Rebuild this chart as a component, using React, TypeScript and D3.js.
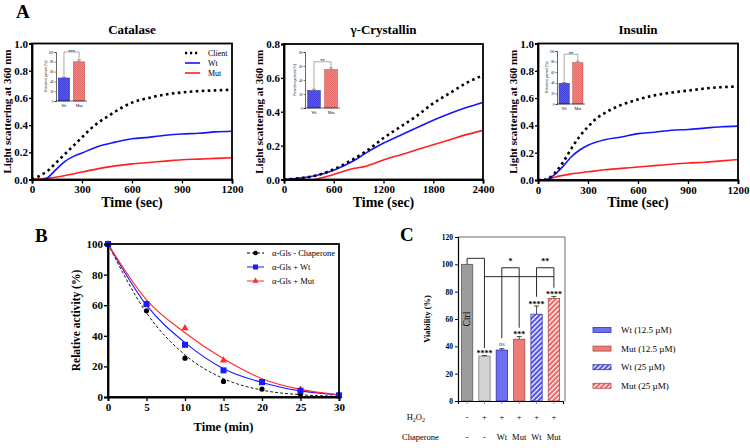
import React, { useEffect, useRef } from "react";
import * as d3 from "d3";

const FONT = "'Liberation Serif', 'Times New Roman', serif";

// ---- Panel A: light scattering kinetics ----
const catClientT = [0, 50, 100, 150, 200, 250, 300, 350, 400, 450, 500, 600, 700, 800, 900, 1000, 1100, 1200];
const catClient = [0, 0.03, 0.07, 0.13, 0.19, 0.25, 0.31, 0.37, 0.42, 0.46, 0.5, 0.565, 0.6, 0.625, 0.64, 0.65, 0.655, 0.66];
const catWtT = [75, 100, 150, 200, 250, 300, 400, 500, 600, 700, 800, 900, 1000, 1100, 1200];
const catWt = [0, 0.02, 0.08, 0.135, 0.17, 0.195, 0.245, 0.275, 0.3, 0.31, 0.325, 0.335, 0.34, 0.35, 0.355];
const catMutT = [0, 100, 200, 300, 400, 500, 600, 700, 800, 900, 1000, 1100, 1200];
const catMut = [0, 0.01, 0.03, 0.055, 0.08, 0.1, 0.115, 0.125, 0.135, 0.145, 0.15, 0.155, 0.16];

const gamClientT = [0, 200, 400, 600, 800, 1000, 1200, 1400, 1600, 1800, 2000, 2200, 2400];
const gamClient = [0, 0.008, 0.025, 0.06, 0.11, 0.17, 0.245, 0.31, 0.375, 0.45, 0.51, 0.57, 0.615];
const gamWt = [0, 0.008, 0.025, 0.055, 0.1, 0.16, 0.215, 0.26, 0.305, 0.35, 0.39, 0.425, 0.455];
const gamMutT = [370, 600, 800, 1000, 1200, 1400, 1600, 1800, 2000, 2200, 2400];
const gamMut = [0, 0.03, 0.06, 0.08, 0.115, 0.145, 0.175, 0.205, 0.235, 0.265, 0.29];

const insClientT = [0, 50, 100, 150, 200, 250, 300, 350, 400, 500, 600, 700, 800, 900, 1000, 1100, 1200];
const insClient = [0, 0.005, 0.05, 0.13, 0.23, 0.32, 0.39, 0.45, 0.49, 0.55, 0.59, 0.62, 0.64, 0.655, 0.67, 0.68, 0.685];
const insWtT = [50, 100, 150, 200, 250, 300, 400, 500, 600, 700, 800, 900, 1000, 1100, 1200];
const insWt = [0, 0.04, 0.1, 0.17, 0.22, 0.255, 0.295, 0.315, 0.34, 0.35, 0.365, 0.37, 0.38, 0.39, 0.395];
const insMutT = [50, 100, 200, 300, 400, 500, 600, 700, 800, 900, 1000, 1100, 1200];
const insMut = [0, 0.02, 0.045, 0.06, 0.075, 0.085, 0.095, 0.105, 0.115, 0.125, 0.13, 0.14, 0.15];

// inset bars: protection percent
const insetGroups = ["Wt", "Mut"];
const catProtect = [47, 80];
const catProtectErr = [2, 4];
const gamProtect = [25, 55];
const gamProtectErr = [2, 2.5];
const insProtect = [39, 78];
const insProtectErr = [1.5, 3];

// ---- Panel B: alpha-glucosidase activity ----
const timeMin = [0, 5, 10, 15, 20, 25, 30];
const actNone = [100, 56.3, 25.4, 10.2, 5.2, 2, 0.7];
const actWt = [100, 60.7, 34.1, 17.4, 9.8, 4.1, 1.1];
const actMut = [100, 61, 45, 23.9, 9, 4.8, 1];
const fitNone = [100, 55, 27.5, 12, 4.5, 1.5, 0.5];
const fitWt = [100, 60, 35.5, 18.5, 9.5, 4, 1.5];
const fitMut = [100, 63.5, 42, 25, 12, 5, 1.5];

// ---- Panel C: cell viability ----
const conditions = ["ctrl", "h2o2", "wt12", "mut12", "wt25", "mut25"];
const viability = [100, 32.8, 37.3, 45.2, 63.5, 75];
const viabilityErr = [0, 0.5, 1, 2, 6, 1.5];
const viabilityStars = ["", "****", "ns", "***", "****", "****"];
const h2o2Row = ["-", "+", "+", "+", "+", "+"];
const chaperoneRow = ["-", "-", "Wt", "Mut", "Wt", "Mut"];
const viabilityLegend = ["Wt (12.5 \u00b5M)", "Mut (12.5 \u00b5M)", "Wt (25 \u00b5M)", "Mut (25 \u00b5M)"];

type Sel = d3.Selection<any, unknown, null, undefined>;

function label(g: Sel, x: number, y: number, t: string, size: number, opts: any = {}) {
  return g.append("text").attr("x", x).attr("y", y)
    .attr("text-anchor", opts.anchor || "start")
    .attr("fill", opts.fill || "#000")
    .style("font-family", FONT)
    .style("font-weight", opts.bold ? "bold" : "normal")
    .style("font-size", size + "px")
    .text(t);
}

function styleAxis(ax: Sel, width: number, fontSize: number) {
  ax.select(".domain").attr("stroke", "#000").attr("stroke-width", width);
  ax.selectAll(".tick line").attr("stroke", "#000").attr("stroke-width", width * 0.75);
  ax.selectAll(".tick text")
    .attr("fill", "#000")
    .style("font-family", FONT)
    .style("font-weight", "bold")
    .style("font-size", fontSize + "px");
}

function drawKinetic(svg: Sel, p: any) {
  const x = d3.scaleLinear().domain([0, p.xMax]).range([p.left, p.right]);
  const y = d3.scaleLinear().domain([0, p.yMax]).range([p.bottom, p.top]);
  const g = svg.append("g");

  const line = d3.line<[number, number]>()
    .x(d => x(d[0]))
    .y(d => y(d[1]))
    .curve(d3.curveMonotoneX);

  const mk = (t: number[], v: number[]) => t.map((tt, i) => [tt, v[i]] as [number, number]);

  g.append("path").attr("d", line(mk(p.mutT, p.mut)))
    .attr("fill", "none").attr("stroke", "#ff2020").attr("stroke-width", 1.6);
  g.append("path").attr("d", line(mk(p.wtT, p.wt)))
    .attr("fill", "none").attr("stroke", "#1515ff").attr("stroke-width", 1.6);
  g.append("path").attr("d", line(mk(p.clientT, p.client)))
    .attr("fill", "none").attr("stroke", "#000").attr("stroke-width", 2.6)
    .attr("stroke-dasharray", "2.6 3.4");

  // frame
  g.append("rect").attr("x", p.left).attr("y", p.top)
    .attr("width", p.right - p.left).attr("height", p.bottom - p.top)
    .attr("fill", "none").attr("stroke", "#000").attr("stroke-width", 1.8);

  const xa = g.append("g").attr("transform", `translate(0,${p.bottom})`)
    .call(d3.axisBottom(x).tickValues(d3.range(0, p.xMax + 1, p.xStep)).tickSize(4).tickPadding(2).tickFormat(d3.format("d")));
  styleAxis(xa, 1.8, 11);
  const ya = g.append("g").attr("transform", `translate(${p.left},0)`)
    .call(d3.axisLeft(y).tickValues(d3.range(0, p.yMax + 0.01, 0.2)).tickSize(3).tickPadding(1).tickFormat(d3.format(".1f")));
  styleAxis(ya, 1.8, 11);

  label(g, (p.left + p.right) / 2, 34, p.title, 13, { anchor: "middle", bold: true });
  label(g, (p.left + p.right) / 2, 207, "Time (sec)", 14, { anchor: "middle", bold: true });
  label(g, 0, 0, "Light scattering at 360 nm", 11, { anchor: "middle", bold: true })
    .attr("transform", `translate(${p.left - 21},${(p.top + p.bottom) / 2}) rotate(-90)`);

  drawInset(g, p.inset);
}

function drawInset(g: Sel, p: any) {
  const x = d3.scaleBand().domain(insetGroups).range([p.left, p.right]).paddingInner(0.25).paddingOuter(0.15);
  const y = d3.scaleLinear().domain([0, p.yMax]).range([p.bottom, p.top]);
  const ig = g.append("g");
  const fills = ["url(#checkBlue)", "url(#checkRed)"];
  const strokes = ["#2a2a9a", "#b04848"];

  p.values.forEach((v: number, i: number) => {
    const cx = x(insetGroups[i])! + x.bandwidth() / 2;
    ig.append("rect").attr("x", x(insetGroups[i])!).attr("y", y(v))
      .attr("width", x.bandwidth()).attr("height", y(0) - y(v))
      .attr("fill", fills[i]).attr("stroke", strokes[i]).attr("stroke-width", 0.5);
    const e = p.errs[i];
    ig.append("line").attr("x1", cx).attr("x2", cx).attr("y1", y(v)).attr("y2", y(v + e))
      .attr("stroke", "#333").attr("stroke-width", 0.5);
    ig.append("line").attr("x1", cx - 2).attr("x2", cx + 2).attr("y1", y(v + e)).attr("y2", y(v + e))
      .attr("stroke", "#333").attr("stroke-width", 0.5);
    label(ig, cx, p.bottom + 5.5, insetGroups[i], 4, { anchor: "middle" });
  });

  // significance bracket
  const cx0 = x("Wt")! + x.bandwidth() / 2;
  const cx1 = x("Mut")! + x.bandwidth() / 2;
  const by = y(p.bracket);
  ig.append("path")
    .attr("d", `M${cx0},${y(p.values[0] + p.errs[0]) - 1}V${by}H${cx1}V${y(p.values[1] + p.errs[1]) - 1}`)
    .attr("fill", "none").attr("stroke", "#555").attr("stroke-width", 0.5);
  label(ig, (cx0 + cx1) / 2, by + 0.5, p.stars, 4.5, { anchor: "middle", bold: true });

  const ya = ig.append("g").attr("transform", `translate(${p.left},0)`)
    .call(d3.axisLeft(y).tickValues(d3.range(0, p.yMax + 1, 20)).tickSize(1.5).tickPadding(1));
  ya.select(".domain").attr("stroke", "#000").attr("stroke-width", 0.6);
  ya.selectAll(".tick line").attr("stroke", "#000").attr("stroke-width", 0.5);
  ya.selectAll(".tick text").style("font-family", FONT).style("font-size", "3.3px").attr("fill", "#000");
  ig.append("line").attr("x1", p.left).attr("x2", p.right).attr("y1", p.bottom).attr("y2", p.bottom)
    .attr("stroke", "#000").attr("stroke-width", 0.6);
  label(ig, 0, 0, "Protection percent (%)", 3.5, { anchor: "middle" })
    .attr("transform", `translate(${p.left - 9},${(p.top + p.bottom) / 2}) rotate(-90)`);
}

function drawActivity(svg: Sel) {
  const left = 108, right = 339, top = 244, bottom = 397;
  const x = d3.scaleLinear().domain([0, 30]).range([left, right]);
  const y = d3.scaleLinear().domain([0, 100]).range([bottom, top]);
  const g = svg.append("g");
  const line = d3.line<number>().x((_, i) => x(timeMin[i])).y(d => y(d)).curve(d3.curveMonotoneX);

  g.append("path").attr("d", line(fitNone)).attr("fill", "none").attr("stroke", "#000")
    .attr("stroke-width", 0.9).attr("stroke-dasharray", "3 2");
  g.append("path").attr("d", line(fitWt)).attr("fill", "none").attr("stroke", "#1a1aff").attr("stroke-width", 1.1);
  g.append("path").attr("d", line(fitMut)).attr("fill", "none").attr("stroke", "#ff2a2a").attr("stroke-width", 1.1);

  const tri = d3.symbol().type(d3.symbolTriangle).size(22);
  g.selectAll(".tri").data(actMut).join("path").attr("class", "tri")
    .attr("transform", (d, i) => `translate(${x(timeMin[i])},${y(d)})`)
    .attr("d", tri()).attr("fill", "#ff2a2a");
  g.selectAll(".dot").data(actNone).join("circle").attr("class", "dot")
    .attr("cx", (d, i) => x(timeMin[i])).attr("cy", d => y(d)).attr("r", 2.6).attr("fill", "#000");
  g.selectAll(".sq").data(actWt).join("rect").attr("class", "sq")
    .attr("x", (d, i) => x(timeMin[i]) - 3).attr("y", d => y(d) - 3)
    .attr("width", 6).attr("height", 6).attr("fill", "#1a1aff");

  g.append("rect").attr("x", left).attr("y", top).attr("width", right - left).attr("height", bottom - top)
    .attr("fill", "none").attr("stroke", "#000").attr("stroke-width", 1.8);
  const xa = g.append("g").attr("transform", `translate(0,${bottom})`)
    .call(d3.axisBottom(x).tickValues(timeMin).tickSize(4).tickPadding(2));
  styleAxis(xa, 1.8, 11);
  const ya = g.append("g").attr("transform", `translate(${left},0)`)
    .call(d3.axisLeft(y).tickValues(d3.range(0, 101, 20)).tickSize(4).tickPadding(1));
  styleAxis(ya, 1.8, 11);

  label(g, (left + right) / 2, 431, "Time (min)", 12.5, { anchor: "middle", bold: true });
  label(g, 0, 0, "Relative activity (%)", 11.5, { anchor: "middle", bold: true })
    .attr("transform", `translate(80,${(top + bottom) / 2}) rotate(-90)`);

  // legend
  const items = [
    { label: "\u03b1-Gls - Chaperone", color: "#000", dash: "3 2", mark: "circle" },
    { label: "\u03b1-Gls + Wt", color: "#1a1aff", dash: null, mark: "square" },
    { label: "\u03b1-Gls + Mut", color: "#ff2a2a", dash: null, mark: "tri" },
  ];
  items.forEach((it, i) => {
    const ly = 253 + i * 14;
    g.append("line").attr("x1", 247).attr("x2", 264).attr("y1", ly).attr("y2", ly)
      .attr("stroke", it.color).attr("stroke-width", 1).attr("stroke-dasharray", it.dash);
    if (it.mark === "circle") g.append("circle").attr("cx", 255.5).attr("cy", ly).attr("r", 2.3).attr("fill", it.color);
    if (it.mark === "square") g.append("rect").attr("x", 253).attr("y", ly - 2.5).attr("width", 5).attr("height", 5).attr("fill", it.color);
    if (it.mark === "tri") g.append("path").attr("transform", `translate(255.5,${ly})`)
      .attr("d", d3.symbol().type(d3.symbolTriangle).size(16)()).attr("fill", it.color);
    label(g, 272, ly + 3, it.label, 8.5);
  });
}

function drawViability(svg: Sel) {
  const left = 458, right = 565, top = 237, bottom = 401;
  const x = d3.scaleBand().domain(conditions).range([left, right - 2]).paddingInner(0.35).paddingOuter(0.2);
  const y = d3.scaleLinear().domain([0, 120]).range([bottom, top]);
  const g = svg.append("g");
  const fills = ["#9d9d9d", "#d3d3d3", "#6f6ff3", "#ef7c74", "url(#hatchBlue)", "url(#hatchRed)"];
  const strokes = ["#5a5a5a", "#7a7a7a", "#3434a8", "#a84a44", "#3434a8", "#b44848"];
  const cx = (i: number) => x(conditions[i])! + x.bandwidth() / 2;

  // frame
  g.append("path").attr("d", `M${left},${top}H${right}V${bottom}`)
    .attr("fill", "none").attr("stroke", "#444").attr("stroke-width", 0.8);

  viability.forEach((v, i) => {
    g.append("rect").attr("x", x(conditions[i])!).attr("y", y(v))
      .attr("width", x.bandwidth()).attr("height", y(0) - y(v))
      .attr("fill", fills[i]).attr("stroke", strokes[i]).attr("stroke-width", 0.8);
    const e = viabilityErr[i];
    if (e > 0) {
      g.append("line").attr("x1", cx(i)).attr("x2", cx(i)).attr("y1", y(v)).attr("y2", y(v + e))
        .attr("stroke", "#222").attr("stroke-width", 0.8);
      g.append("line").attr("x1", cx(i) - 2.5).attr("x2", cx(i) + 2.5).attr("y1", y(v + e)).attr("y2", y(v + e))
        .attr("stroke", "#222").attr("stroke-width", 0.8);
    }
    const s = viabilityStars[i];
    if (s) {
      const ns = s === "ns";
      label(g, cx(i), y(v + e) - (ns ? 3 : -0.5), s, ns ? 6.5 : 8,
        { anchor: "middle", bold: !ns, fill: ns ? "#555" : "#000" });
    }
  });

  label(g, 0, 0, "Ctrl", 9.5, { anchor: "middle" })
    .attr("transform", `translate(${cx(0) + 3},${y(60)}) rotate(-90)`);

  // comparison brackets
  const br = (d: string) => g.append("path").attr("d", d).attr("fill", "none")
    .attr("stroke", "#111").attr("stroke-width", 0.9);
  br(`M${cx(0)},${y(100)}V${y(104.4)}H${cx(1)}V${y(38.8)}`);
  br(`M${cx(1)},${y(91)}H${cx(5)}`);
  br(`M${cx(2)},${y(45.9)}V${y(97.5)}H${cx(3)}V${y(53.6)}`);
  br(`M${cx(4)},${y(76.3)}V${y(97.5)}H${cx(5)}V${y(82.9)}`);
  label(g, (cx(2) + cx(3)) / 2, y(100.5), "*", 8, { anchor: "middle", bold: true });
  label(g, (cx(4) + cx(5)) / 2, y(100.5), "**", 8, { anchor: "middle", bold: true });

  const ya = g.append("g").attr("transform", `translate(${left},0)`)
    .call(d3.axisLeft(y).tickValues(d3.range(0, 121, 20)).tickSize(3).tickPadding(2));
  styleAxis(ya, 1.2, 7.5);
  const xa = g.append("g").attr("transform", `translate(0,${bottom})`)
    .call(d3.axisBottom(x).tickSize(3).tickFormat(() => ""));
  xa.select(".domain").attr("stroke", "#000").attr("stroke-width", 1.2);
  xa.selectAll(".tick line").attr("stroke", "#555").attr("stroke-width", 0.6);

  label(g, 0, 0, "Viability (%)", 8.5, { anchor: "middle", bold: true })
    .attr("transform", `translate(430,${y(60)}) rotate(-90)`);

  // treatment rows
  const h = label(g, 425, 420, "", 8.5, { anchor: "end" });
  h.append("tspan").text("H");
  h.append("tspan").attr("font-size", "6px").attr("dy", 2).text("2");
  h.append("tspan").attr("dy", -2).text("O");
  h.append("tspan").attr("font-size", "6px").attr("dy", 2).text("2");
  label(g, 402, 440, "Chaperone", 8.5);
  h2o2Row.forEach((s, i) => label(g, cx(i), 420, s, 8.5, { anchor: "middle" }));
  chaperoneRow.forEach((s, i) => label(g, cx(i), 440, s, 8.5, { anchor: "middle" }));

  // legend
  const lf = ["#6f6ff3", "#ef7c74", "url(#hatchBlue)", "url(#hatchRed)"];
  const ls = ["#3434a8", "#a84a44", "#3434a8", "#b44848"];
  viabilityLegend.forEach((t, i) => {
    const ly = 330 + i * 18.6;
    g.append("rect").attr("x", 593).attr("y", ly - 2.5).attr("width", 18).attr("height", 5)
      .attr("fill", lf[i]).attr("stroke", ls[i]).attr("stroke-width", 0.8);
    label(g, 621, ly + 3, t, 9);
  });
}

export default function App() {
  const svgRef = useRef<SVGSVGElement>(null);

  useEffect(() => {
    const svg = d3.select(svgRef.current) as Sel;
    svg.selectAll("*").remove();

    // fill patterns for checkered and hatched bars
    const defs = svg.append("defs");
    const check = (id: string, bg: string, fg: string) => {
      const p = defs.append("pattern").attr("id", id).attr("patternUnits", "userSpaceOnUse")
        .attr("width", 2).attr("height", 2);
      p.append("rect").attr("width", 2).attr("height", 2).attr("fill", bg);
      p.append("rect").attr("width", 1).attr("height", 1).attr("fill", fg);
      p.append("rect").attr("x", 1).attr("y", 1).attr("width", 1).attr("height", 1).attr("fill", fg);
    };
    check("checkBlue", "#5a5af5", "#4040d8");
    check("checkRed", "#f08a84", "#e06a66");
    const hatch = (id: string, bg: string) => {
      const p = defs.append("pattern").attr("id", id).attr("patternUnits", "userSpaceOnUse")
        .attr("width", 3.5).attr("height", 3.5).attr("patternTransform", "rotate(45)");
      p.append("rect").attr("width", 3.5).attr("height", 3.5).attr("fill", bg);
      p.append("rect").attr("width", 1.3).attr("height", 3.5).attr("fill", "#fff");
    };
    hatch("hatchBlue", "#5050ee");
    hatch("hatchRed", "#ee6464");

    svg.append("rect").attr("width", 750).attr("height", 448).attr("fill", "#fff");

    drawKinetic(svg, {
      title: "Catalase", left: 32, right: 232, top: 43.5, bottom: 179.5, xMax: 1200, xStep: 300, yMax: 1.0,
      clientT: catClientT, client: catClient, wtT: catWtT, wt: catWt, mutT: catMutT, mut: catMut,
      inset: { left: 56, right: 87, top: 52, bottom: 101, yMax: 100, values: catProtect, errs: catProtectErr, bracket: 100, stars: "***" },
    });
    drawKinetic(svg, {
      title: "\u03b3-Crystallin", left: 284, right: 483, top: 44, bottom: 179.5, xMax: 2400, xStep: 600, yMax: 0.8,
      clientT: gamClientT, client: gamClient, wtT: gamClientT, wt: gamWt, mutT: gamMutT, mut: gamMut,
      inset: { left: 305, right: 340, top: 52, bottom: 108, yMax: 80, values: gamProtect, errs: gamProtectErr, bracket: 66, stars: "**" },
    });
    drawKinetic(svg, {
      title: "Insulin", left: 538, right: 738, top: 43.5, bottom: 180, xMax: 1200, xStep: 300, yMax: 1.0,
      clientT: insClientT, client: insClient, wtT: insWtT, wt: insWt, mutT: insMutT, mut: insMut,
      inset: { left: 557, right: 585, top: 51, bottom: 104, yMax: 100, values: insProtect, errs: insProtectErr, bracket: 94, stars: "**" },
    });

    // legend of the catalase panel
    const leg = [
      { t: "Client", c: "#000", dash: "2.2 2.8", w: 2.4 },
      { t: "Wt", c: "#1515ff", dash: null, w: 1.6 },
      { t: "Mut", c: "#ff2020", dash: null, w: 1.6 },
    ];
    leg.forEach((l, i) => {
      const ly = 53 + i * 10;
      svg.append("line").attr("x1", 185).attr("x2", 200).attr("y1", ly).attr("y2", ly)
        .attr("stroke", l.c).attr("stroke-width", l.w).attr("stroke-dasharray", l.dash);
      label(svg, 208, ly + 3, l.t, 8);
    });

    drawActivity(svg);
    drawViability(svg);

    // panel letters
    label(svg, 16, 18, "A", 19, { bold: true });
    label(svg, 35, 242, "B", 19, { bold: true });
    label(svg, 400, 241, "C", 19, { bold: true });
  }, []);

  return (
    <svg ref={svgRef} width={750} height={448}
      style={{ position: "absolute", left: 0, top: 0, background: "#fff" }} />
  );
}
